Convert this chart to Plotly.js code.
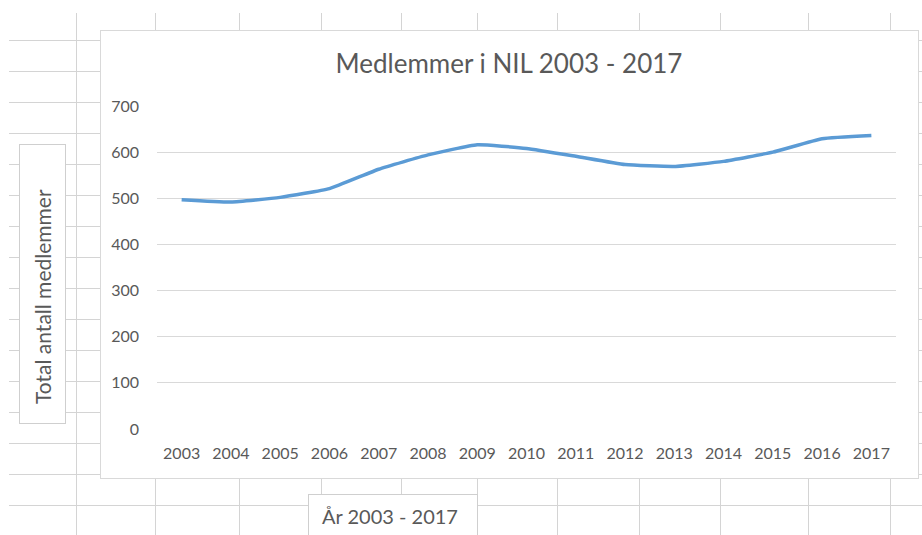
<!DOCTYPE html>
<html>
<head>
<meta charset="utf-8">
<script src="https://cdn.plot.ly/plotly-3.0.1.min.js"></script>
<style>
  html, body { margin: 0; padding: 0; background: #fff; }
  #wrap { position: relative; width: 922px; height: 535px; overflow: hidden; background: #fff; }
  .h { position: absolute; height: 1px; background: #d4d4d4; left: 9px; right: 0; }
  .v { position: absolute; width: 1px; background: #d4d4d4; top: 13px; bottom: 0; }
  .box { position: absolute; background: #fff; border: 1px solid #cfcfcf; box-sizing: border-box; }
  #chart { position: absolute; left: 0; top: 0; width: 922px; height: 535px; }
</style>
</head>
<body>
<div id="wrap">
  <div id="grid"></div>
  <div class="box" style="left:100px; top:30px; width:819px; height:449px; border-color:#d9d9d9;"></div>
  <div class="box" style="left:19px; top:144px; width:47px; height:280px;"></div>
  <div class="box" style="left:308px; top:494px; width:170px; height:50px;"></div>
  <div id="chart"></div>
</div>
<script>
// Data
const years = ["2003","2004","2005","2006","2007","2008","2009","2010","2011","2012","2013","2014","2015","2016","2017"];
const members = [497, 492, 502, 521, 563, 594, 616, 608, 591, 573, 569, 580, 600, 629, 636];
const yTicks = [0, 100, 200, 300, 400, 500, 600, 700];

// spreadsheet background grid (decoration)
const grid = document.getElementById('grid');
[40,71,102,133,164,195,226,257,288,319,350,381,412,443,474,505].forEach(y => {
  const d = document.createElement('div'); d.className = 'h'; d.style.top = y + 'px'; grid.appendChild(d);
});
[76,155,239,321,401,477,557,639,720,808,890].forEach(x => {
  const d = document.createElement('div'); d.className = 'v'; d.style.left = x + 'px'; grid.appendChild(d);
});

const FONT = 'Lato, "Open Sans", sans-serif';
const L = 157, R = 896, T = 106, B = 429, W = 922, H = 535;
const px2x = p => (p - L) / (R - L);
const px2y = p => (B - p) / (B - T);

const trace = {
  x: years, y: members, type: 'scatter', mode: 'lines',
  line: { color: '#5B9BD5', width: 3.5, shape: 'spline', smoothing: 0.4 },
  hoverinfo: 'x+y'
};

const layout = {
  width: W, height: H,
  margin: { l: L, r: W - R, t: T, b: H - B, pad: 0 },
  paper_bgcolor: 'rgba(0,0,0,0)', plot_bgcolor: 'rgba(0,0,0,0)',
  showlegend: false,
  font: { family: FONT, color: '#595959', size: 16 },
  title: { text: 'Medlemmer i NIL 2003 - 2017', font: { family: FONT, size: 26, color: '#595959' },
           xref: 'paper', x: px2x(509), xanchor: 'center', yref: 'container', y: 1 - 64 / H, yanchor: 'middle' },
  xaxis: {
    type: 'category', range: [-0.5, years.length - 0.5], tickvals: years, ticktext: years,
    showgrid: false, zeroline: false, showline: false, ticks: '', ticklabelstandoff: 13,
    tickfont: { family: FONT, size: 16, color: '#595959' }, fixedrange: true
  },
  yaxis: {
    range: [0, 700], tickvals: yTicks, ticktext: yTicks.map(String),
    showgrid: true, gridcolor: '#d9d9d9', gridwidth: 1, zeroline: false, showline: false, ticks: '',
    ticklabelstandoff: 17, tickfont: { family: FONT, size: 16, color: '#595959' }, fixedrange: true
  },
  annotations: [
    { text: 'Total antall medlemmer', xref: 'paper', yref: 'paper', x: px2x(42), y: px2y(297),
      textangle: -90, showarrow: false, font: { family: FONT, size: 21, color: '#595959' },
      xanchor: 'center', yanchor: 'middle' },
    { text: 'År 2003 - 2017', xref: 'paper', yref: 'paper', x: px2x(390), y: px2y(516),
      showarrow: false, font: { family: FONT, size: 20, color: '#595959' },
      xanchor: 'center', yanchor: 'middle' }
  ]
};

Plotly.newPlot('chart', [trace], layout, { displayModeBar: false });
</script>
</body>
</html>
